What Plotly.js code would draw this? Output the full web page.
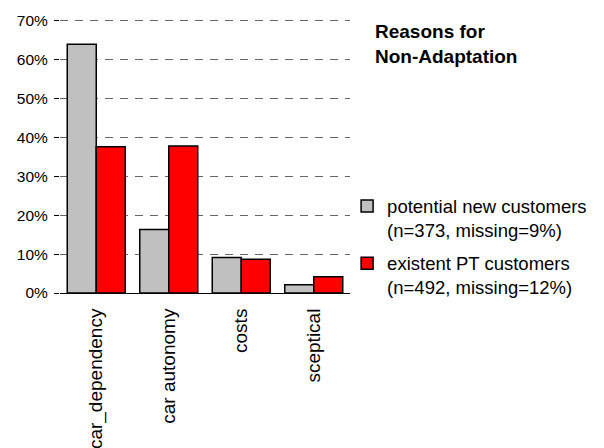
<!DOCTYPE html>
<html>
<head>
<meta charset="utf-8">
<script src="https://cdn.plot.ly/plotly-3.0.1.min.js"></script>
<style>
  html, body { margin: 0; padding: 0; background: #fff; }
  #chart { width: 604px; height: 448px; }
</style>
</head>
<body>
<div id="chart"></div>
<script>
// Reasons given for not adopting the service, share of respondents (%)
const reasons = ["car_dependency", "car autonomy", "costs", "sceptical"];
const potentialNew = [63.9, 16.3, 9.1, 2.1];
const existentPT = [37.6, 37.8, 8.7, 4.2];
const seriesNames = [
  "potential new customers<br>(n=373, missing=9%)",
  "existent PT customers<br>(n=492, missing=12%)"
];
const yTicks = [0, 10, 20, 30, 40, 50, 60, 70];
const yTickText = yTicks.map(v => v + "%");

const font = "Liberation Sans, Arial, sans-serif";

const traces = [
  {
    type: "bar", x: reasons, y: potentialNew, name: seriesNames[0],
    legendgroup: "a",
    marker: { color: "#c0c0c0", line: { color: "#000", width: 1.5 } },
    hoverinfo: "y"
  },
  {
    type: "bar", x: reasons, y: existentPT, name: seriesNames[1],
    legendgroup: "b",
    marker: { color: "#ff0000", line: { color: "#000", width: 1.5 } },
    hoverinfo: "y"
  }
];

const layout = {
  width: 604, height: 448,
  margin: { l: 60, r: 252, t: 19, b: 155, pad: 0 },
  paper_bgcolor: "#fff", plot_bgcolor: "#fff",
  font: { family: font, size: 15, color: "#000" },
  barmode: "group",
  bargap: 0.2, bargroupgap: 0,
  showlegend: true,
  legend: {
    x: 0.99, xanchor: "left", y: 0.385, yanchor: "top",
    valign: "top", tracegroupgap: 6,
    font: { family: font, size: 18.5, color: "#000" },
    bgcolor: "rgba(0,0,0,0)"
  },
  xaxis: {
    showgrid: false, zeroline: false,
    showline: true, linecolor: "#000", linewidth: 1,
    tickangle: -90, ticks: "outside", ticklen: 7, tickcolor: "rgba(0,0,0,0)",
    tickfont: { family: font, size: 19, color: "#000" },
    fixedrange: true
  },
  yaxis: {
    range: [0, 70.4], tickvals: yTicks, ticktext: yTickText,
    showgrid: true, gridcolor: "#666", gridwidth: 1, griddash: "8px,7px",
    zeroline: false, showline: false,
    ticks: "outside", ticklen: 5, tickcolor: "#000", ticklabelstandoff: 3,
    tickfont: { family: font, size: 15.5, color: "#000" },
    fixedrange: true
  },
  annotations: [
    {
      xref: "paper", yref: "paper", x: 1.08, y: 1.0, xanchor: "left", yanchor: "top",
      align: "left", showarrow: false,
      text: "<b>Reasons for<br>Non-Adaptation</b>",
      font: { family: font, size: 19, color: "#000" }
    }
  ]
};

Plotly.newPlot("chart", traces, layout, { displayModeBar: false, staticPlot: true });
</script>
</body>
</html>
